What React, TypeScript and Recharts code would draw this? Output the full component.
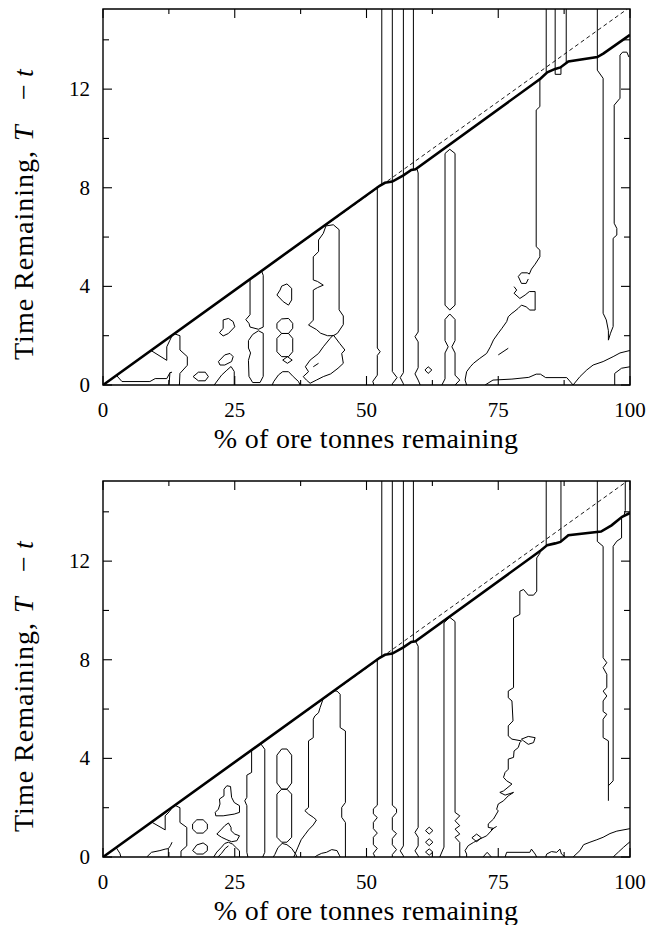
import React from 'react';
import { ComposedChart, Line, XAxis, YAxis, ReferenceArea } from 'recharts';

// ---------- axes ----------
const X_TICKS = [0, 12.5, 25, 37.5, 50, 62.5, 75, 87.5, 100];
const X_LABELED = [0, 25, 50, 75, 100];
const Y_TICKS = [0, 2, 4, 6, 8, 10, 12, 14];
const Y_LABELED = [0, 4, 8, 12];
const Y_MAX = 15.25;
const X_LABEL = '% of ore tonnes remaining';
const Y_LABEL_PARTS = ['Time Remaining,', 'T', '\u2212', 't'];

// ---------- shared ----------
const DASHED = [[0, 0], [99.5, 15.25]];

// ---------- top panel ----------
const T_THICK = [[0, 0], [52.5, 8.08], [53.5, 8.2], [54.9, 8.25], [57, 8.5], [58.5, 8.72], [59.3, 8.75], [83, 12.42], [84.3, 12.68], [85.8, 12.82], [86.8, 12.88], [88.3, 13.12], [93.8, 13.3], [95, 13.45], [100, 14.2]];

const tA = [[2.6, 0.38], [3.6, 0.14], [8.9, 0.14], [9.9, 0.26], [12.1, 0.26], [12.7, 0.5], [13.1, 0.52]];
const tA2 = [[12.7, 0.5], [12.6, 0.2], [12.5, 0]];
const tB = [[9.1, 1.4], [12.1, 1.0], [12.1, 1.55], [12.7, 1.82], [13.1, 2.0]];
const tC = [[13.5, 2.08], [14.6, 2.0], [14.6, 1.42], [16.0, 1.15], [16.0, 0.8], [14.6, 0.47], [14.5, 0]];
const tE1 = [[17.1, 0.34], [18.1, 0.52], [19.4, 0.52], [20.0, 0.34], [19.4, 0.17], [18.1, 0.17], [17.1, 0.34]];
const tD1 = [[21.1, 0], [22.5, 0.4], [23.5, 0.6], [24.3, 0.75], [24.9, 0.55], [24.9, 0]];
const tD2 = [[21.9, 0.95], [23.1, 1.22], [24.1, 1.28], [24.7, 1.15], [24.4, 0.95], [23.1, 0.81], [22.2, 0.81], [21.9, 0.95]];
const tD3 = [[22.8, 2.64], [23.8, 2.7], [24.7, 2.57], [25.0, 2.36], [23.8, 2.09], [22.8, 1.99], [22.1, 2.12], [22.8, 2.3], [22.8, 2.64]];
const tF1 = [[27.9, 4.29], [27.9, 2.85], [27.1, 2.65], [27.7, 2.5], [27.9, 2.35], [29.5, 2.26], [30.4, 2.35], [30.4, 4.45], [30.1, 4.62]];
const tF2 = [[29.5, 2.2], [30.4, 2.1], [30.4, 0.35], [29.8, 0.1], [28.4, 0.1], [27.7, 0.35], [27.6, 1.0], [28.0, 1.3], [27.6, 1.5], [27.6, 1.8], [28.4, 2.05], [29.5, 2.2]];
const tG1 = [[33.9, 4.01], [34.9, 4.1], [35.8, 3.92], [35.8, 3.45], [35.2, 3.24], [34.2, 3.38], [33.0, 3.65], [33.6, 3.85], [33.9, 4.01]];
const tG2 = [[33.9, 2.68], [35.2, 2.7], [36.0, 2.5], [36.0, 2.3], [35.2, 2.09], [33.9, 2.09], [33.0, 2.3], [33.0, 2.5], [33.9, 2.68]];
const tG3 = [[33.9, 2.09], [35.2, 2.09], [36.0, 1.89], [36.0, 1.35], [35.2, 1.15], [33.9, 1.15], [33.0, 1.35], [33.0, 1.89], [33.9, 2.09]];
const tG4 = [[34.1, 1.01], [35.0, 1.15], [35.9, 1.01], [35.0, 0.88], [34.1, 1.01]];
const tG5 = [[32.1, 0], [32.4, 0.14], [33.3, 0.41], [34.1, 0.54], [35.2, 0.54], [36.1, 0.34], [37.1, 0.14], [37.4, 0]];
const tH1 = [[42.3, 6.45], [43.7, 6.5], [44.8, 6.3], [44.8, 3.05], [45.6, 2.8], [45.6, 2.45], [44.5, 2.1], [43.7, 2.0], [42.6, 2.0], [41.3, 2.1], [40.5, 2.25], [39.0, 2.43], [39.9, 2.63], [39.9, 3.85], [40.7, 3.95], [41.8, 4.05], [40.7, 4.2], [39.9, 4.26], [39.9, 5.2], [40.9, 5.41], [40.9, 5.88], [41.8, 6.15], [42.3, 6.45]];
const tH2 = [[43.7, 2.03], [44.9, 1.69], [45.9, 1.42], [45.3, 1.28], [45.6, 0.88], [44.6, 0.68], [43.2, 0.45], [41.8, 0.34], [40.5, 0.2], [39.3, 0.07], [38.6, 0.2], [38.0, 0.34], [39.0, 0.54], [38.4, 0.74], [39.3, 1.01], [40.9, 1.28], [41.8, 1.55], [43.1, 1.89], [43.7, 2.03]];
const tH3 = [[39.9, 0.74], [40.9, 0.88]];
const tV1 = [[52.05, 8.05], [52.05, 1.5], [52.6, 1.35], [52.05, 1.2], [52.05, 0.4], [51.2, 0.15], [51.4, 0]];
const tV2 = [[52.9, 15.25], [52.9, 8.15]];
const tV3 = [[54.9, 15.25], [54.9, 0.55], [55.8, 0.3], [54.9, 0.05], [54.9, 0]];
const tV4 = [[57.0, 15.25], [57.0, 0.5], [56.4, 0.3], [57.0, 0.05], [57.0, 0]];
const tV5 = [[58.9, 15.25], [58.9, 8.72]];
const tV6 = [[59.6, 8.75], [59.8, 8.6], [59.8, 2.15], [59.2, 1.96], [59.8, 1.75], [59.8, 0.7], [59.2, 0.45], [59.8, 0.2], [60.2, 0]];
const tDia = [[61.1, 0.61], [61.7, 0.74], [62.4, 0.61], [61.7, 0.47], [61.1, 0.61]];
const tK1 = [[64.9, 9.39], [65.8, 9.56], [66.8, 9.39], [66.8, 3.24], [65.8, 3.04], [64.9, 3.24], [64.9, 9.39]];
const tK2 = [[64.3, 0], [64.9, 0.25], [64.9, 1.3], [65.5, 1.55], [64.9, 1.8], [64.9, 2.66], [65.8, 2.88], [66.8, 2.66], [66.8, 1.8], [66.2, 1.55], [66.8, 1.3], [66.8, 0.4], [67.7, 0.2], [66.8, 0]];
const tBand1 = [[82.9, 12.45], [82.9, 11.29], [82.2, 11.15], [82.2, 5.61], [82.9, 5.47], [82.9, 5.2], [82.0, 4.9], [81.3, 4.7], [80.9, 4.5], [80.5, 4.55], [79.4, 4.55], [78.8, 4.4], [79.4, 4.12], [80.3, 4.12], [80.7, 4.3]];
const tBand2 = [[78.0, 3.99], [78.5, 3.85], [78.0, 3.72], [79.1, 3.51], [80.1, 3.65], [80.9, 3.79], [82.0, 3.79], [82.0, 3.04], [81.0, 3.04], [80.3, 3.17], [79.4, 3.24], [78.8, 3.11], [78.0, 2.97], [77.6, 2.91], [76.9, 2.77], [76.6, 2.57], [75.7, 2.3], [75.0, 2.1], [74.1, 1.83], [73.5, 1.55], [72.8, 1.28], [71.5, 1.08], [70.3, 0.88], [69.7, 0.74], [69.0, 0.54], [68.7, 0.2], [69.0, 0]];
const tSeg = [[75.0, 1.22], [76.9, 1.49]];
const tStair = [[72.5, 0], [74.0, 0.2], [77.6, 0.24], [80.8, 0.31], [82.2, 0.44], [83.0, 0.44], [84.0, 0.3], [88.0, 0.3], [89.2, 0]];
const tRise = [[89.2, 0], [90.5, 0.34], [91.8, 0.61], [93.0, 0.81], [94.9, 0.95], [96.8, 1.15], [98.1, 1.3], [100, 1.4]];
const tCorner = [[97.1, 0], [97.1, 0.47], [98.4, 0.68], [100, 0.74]];
const tR1 = [[84.1, 15.25], [84.1, 12.7]];
const tR2 = [[85.8, 15.25], [85.8, 12.6], [86.9, 12.6], [86.9, 12.88]];
const tR3 = [[87.9, 15.25], [87.9, 13.05]];
const tR4 = [[93.8, 15.25], [93.8, 13.3]];
const tR5 = [[93.8, 13.3], [93.8, 12.77], [94.9, 12.44], [94.9, 2.91], [95.5, 2.64], [95.9, 2.2], [95.9, 1.82], [96.3, 2.1], [96.8, 2.37], [96.8, 5.95], [97.5, 6.08], [97.5, 6.35], [97.0, 6.56], [97.0, 11.35], [98.1, 11.63], [98.1, 13.38], [98.6, 13.5], [99.4, 13.5], [99.8, 13.3]];

const TOP_CONTOURS = [tA, tA2, tB, tC, tE1, tD1, tD2, tD3, tF1, tF2, tG1, tG2, tG3, tG4, tG5, tH1, tH2, tH3, tV1, tV2, tV3, tV4, tV5, tV6, tDia, tK1, tK2, tBand1, tBand2, tSeg, tStair, tRise, tCorner, tR1, tR2, tR3, tR4, tR5];

// ---------- bottom panel ----------
const B_THICK = [[0, 0], [52.5, 8.08], [53.5, 8.2], [54.9, 8.25], [57, 8.5], [58.5, 8.72], [59.3, 8.75], [83, 12.42], [84.3, 12.65], [85.8, 12.72], [86.8, 12.78], [88.3, 13.05], [94.5, 13.2], [96.5, 13.45], [98.5, 13.8], [100, 13.95]];

const bA = [[2.5, 0.38], [3.2, 0.15], [3.4, 0]];
const bStair1 = [[8.3, 0], [9.2, 0.19], [10.8, 0.26], [11.8, 0.32], [12.4, 0.34], [12.8, 0.46], [13.1, 0.6]];
const bStair2 = [[12.4, 0.34], [12.4, 0]];
const bB = [[9.2, 1.42], [11.8, 1.1], [11.8, 1.67], [12.6, 1.84], [13.1, 2.0]];
const bC = [[13.6, 2.1], [14.6, 2.0], [14.6, 1.4], [15.9, 1.2], [15.9, 0.45], [14.8, 0.24], [14.8, 0]];
const bE1 = [[17.0, 1.34], [17.8, 1.51], [19.0, 1.51], [19.8, 1.34], [19.8, 1.13], [19.0, 0.97], [17.8, 0.97], [17.0, 1.13], [17.0, 1.34]];
const bE2 = [[17.0, 0.26], [17.8, 0.49], [19.0, 0.57], [19.8, 0.45], [19.8, 0.26], [19.0, 0.12], [17.8, 0.12], [17.0, 0.26]];
const bD1 = [[23.5, 2.89], [24.2, 2.86], [24.4, 2.42], [24.9, 2.21], [25.9, 2.08], [25.9, 1.81], [24.9, 1.74], [22.8, 1.67], [21.4, 1.67], [21.3, 1.81], [21.9, 1.94], [22.2, 2.15], [22.1, 2.35], [22.96, 2.48], [22.96, 2.75], [23.5, 2.89]];
const bD2 = [[21.6, 0.93], [22.5, 1.13], [23.1, 1.27], [23.8, 1.38], [24.3, 1.2], [24.3, 1.07], [25.0, 0.93], [25.9, 0.86], [25.4, 0.66], [24.4, 0.62], [23.5, 0.7], [22.5, 0.8], [21.6, 0.93]];
const bD3 = [[21.0, 0], [21.6, 0.2], [22.5, 0.4], [23.1, 0.55], [23.8, 0.6], [24.6, 0.52], [25.4, 0.35], [25.9, 0.25], [25.9, 0]];
const bD4 = [[21.8, 0], [22.5, 0.15], [23.2, 0.35], [23.8, 0.45]];
const bF1 = [[28.2, 4.34], [28.2, 3.43], [27.3, 3.32], [27.3, 2.42], [26.9, 2.28], [27.3, 2.08], [27.3, 0.19], [27.5, 0]];
const bF2 = [[29.9, 4.6], [30.7, 4.37], [30.7, 0.19], [30.3, 0]];
const bG1 = [[33.9, 4.38], [34.9, 4.38], [35.8, 4.13], [35.8, 3.0], [34.9, 2.75], [33.9, 2.75], [33.0, 3.0], [33.0, 4.13], [33.9, 4.38]];
const bG2 = [[33.9, 2.75], [34.9, 2.75], [35.8, 2.55], [35.8, 0.8], [34.9, 0.6], [33.9, 0.6], [33.0, 0.8], [33.0, 2.55], [33.9, 2.75]];
const bG3 = [[32.3, 0], [32.6, 0.1], [33.2, 0.38], [34.0, 0.55], [34.9, 0.5], [35.8, 0.35], [36.6, 0.1], [36.8, 0]];
const bH1 = [[41.8, 6.43], [41.2, 6.06], [40.9, 5.85], [40.2, 5.72], [39.9, 5.59], [39.9, 4.84], [39.0, 4.71], [39.0, 2.01], [38.3, 1.88], [39.0, 1.74], [39.9, 1.61], [40.5, 1.5], [39.9, 1.3], [39.0, 1.1], [38.3, 0.9], [37.6, 0.7], [37.0, 0.4], [36.4, 0.1], [36.2, 0]];
const bH2 = [[43.8, 6.74], [44.4, 6.73], [45.0, 6.6], [45.0, 5.25], [46.0, 5.11], [46.0, 2.21], [45.3, 2.01], [45.3, 1.61], [46.0, 1.4], [46.0, 0]];
const bH3 = [[40.2, 0], [40.5, 0.05], [41.5, 0.15], [42.4, 0.19], [43.4, 0.3], [44.4, 0.26], [44.9, 0.05], [45.0, 0]];
const bV1 = [[52.05, 8.05], [52.05, 2.1], [51.3, 1.95], [51.3, 1.75], [52.05, 1.6], [51.3, 1.4], [51.3, 1.15], [52.05, 0.97], [51.3, 0.8], [51.3, 0.5], [52.05, 0.35], [51.3, 0.15], [51.6, 0]];
const bV2 = [[52.9, 15.25], [52.9, 8.15]];
const bV3 = [[54.9, 15.25], [54.9, 2.1], [55.7, 1.95], [55.7, 1.8], [54.9, 1.6], [54.9, 1.1], [55.7, 0.95], [54.9, 0.75], [54.9, 0.5], [55.7, 0.3], [54.9, 0.1], [54.9, 0]];
const bV4 = [[57.0, 15.25], [57.0, 0.45], [56.4, 0.25], [57.0, 0.05], [57.0, 0]];
const bV5 = [[58.9, 15.25], [58.9, 8.72]];
const bV6 = [[59.3, 8.75], [59.8, 8.55], [59.8, 1.2], [59.2, 1.0], [59.8, 0.8], [59.8, 0.45], [59.2, 0.25], [59.8, 0.05], [59.9, 0]];
const bDi1 = [[61.2, 1.07], [61.9, 1.21], [62.6, 1.07], [61.9, 0.93], [61.2, 1.07]];
const bDi2 = [[61.2, 0.6], [61.9, 0.74], [62.6, 0.6], [61.9, 0.46], [61.2, 0.6]];
const bDi3 = [[61.2, 0.2], [61.9, 0.33], [62.6, 0.2], [61.9, 0.07], [61.2, 0.2]];
const bK = [[63.9, 0], [64.7, 0.4], [64.7, 9.5], [65.8, 9.72], [66.8, 9.55], [66.8, 1.81], [67.7, 1.67], [66.8, 1.47], [67.7, 1.27], [66.8, 1.13], [67.7, 0.93], [66.8, 0.8], [67.7, 0.59], [67.7, 0]];
const bBand = [[83.0, 12.35], [82.3, 12.13], [82.3, 10.78], [81.7, 10.62], [80.7, 10.62], [79.8, 10.85], [79.1, 10.78], [79.1, 9.84], [77.9, 9.7], [77.9, 6.87], [76.9, 6.73], [76.9, 6.46], [77.6, 6.33], [77.8, 5.52], [76.9, 5.32], [76.9, 4.91], [77.6, 4.78], [79.4, 4.71], [79.1, 4.64], [78.8, 4.44], [78.0, 4.3], [77.9, 4.04], [76.9, 3.97], [76.9, 3.56], [76.3, 3.43], [76.0, 3.23], [76.6, 3.09], [77.6, 2.96], [76.0, 2.68], [75.3, 2.62], [76.3, 2.51], [77.9, 2.62], [76.9, 2.48], [76.0, 2.28], [75.0, 2.15], [74.7, 1.94], [75.0, 1.87], [74.1, 1.54], [73.1, 1.34], [73.1, 1.2], [74.1, 1.16], [72.8, 0.86], [71.5, 0.73], [70.3, 0.59], [69.3, 0.46], [68.7, 0.26], [69.0, 0.12], [69.0, 0]];
const bLoop = [[79.4, 4.78], [80.7, 4.89], [82.0, 4.84], [81.7, 4.64], [80.7, 4.57], [79.8, 4.71], [79.4, 4.78]];
const bStub = [[73.6, 1.1], [74.7, 1.24]];
const bDi4 = [[70.0, 0.78], [70.9, 0.93], [71.8, 0.78], [70.9, 0.62], [70.0, 0.78]];
const bStairA = [[72.1, 0], [72.9, 0.19], [73.7, 0]];
const bStairB = [[76.3, 0], [76.6, 0.19], [81.0, 0.19], [81.3, 0.32], [82.0, 0.12], [82.3, 0]];
const bStairC = [[84.0, 0], [84.2, 0.12], [85.1, 0.22], [86.1, 0.19], [86.7, 0.32], [87.0, 0.12], [87.7, 0]];
const bRise = [[89.2, 0], [90.5, 0.26], [91.2, 0.5], [92.4, 0.6], [93.7, 0.7], [94.9, 0.8], [96.2, 0.95], [97.5, 1.05], [100, 1.15]];
const bCorner = [[96.8, 0], [97.8, 0.2], [98.8, 0.4], [100, 0.62]];
const bR1 = [[84.1, 15.25], [84.1, 12.65]];
const bR2 = [[86.9, 15.25], [86.9, 12.8]];
const bR3 = [[93.8, 15.25], [93.8, 13.2]];
const bR4 = [[93.8, 13.2], [93.8, 12.8], [94.9, 12.6], [94.9, 8.08], [95.6, 7.88], [94.9, 7.68], [95.6, 7.41], [95.6, 6.87], [94.9, 6.73], [95.6, 6.53], [94.9, 6.33], [94.9, 5.9], [95.6, 5.79], [94.9, 5.59], [94.9, 4.84], [95.9, 4.71], [95.9, 2.28]];
const bR5 = [[99.1, 15.25], [99.1, 14.05], [98.9, 13.88]];
const bR6 = [[98.4, 13.75], [98.4, 12.94], [97.5, 12.81], [96.8, 12.6], [96.8, 3.09], [95.9, 2.89]];

const BOTTOM_CONTOURS = [bA, bStair1, bStair2, bB, bC, bE1, bE2, bD1, bD2, bD3, bD4, bF1, bF2, bG1, bG2, bG3, bH1, bH2, bH3, bV1, bV2, bV3, bV4, bV5, bV6, bDi1, bDi2, bDi3, bK, bBand, bLoop, bStub, bDi4, bStairA, bStairB, bStairC, bRise, bCorner, bR1, bR2, bR3, bR4, bR5, bR6];

// ---------- rendering ----------
const FONT = '"Liberation Serif", "Times New Roman", serif';
const TICK_FS = 21;
const LABEL_FS = 28;
const PLOT_W = 527;
const PLOT_H = 376;

const toPts = (a: number[][]) => a.map(([x, y]) => ({ x, y }));

const XTick = (props: any) => {
  const { x, y, payload } = props;
  const major = X_LABELED.includes(payload.value);
  const len = major ? 9 : 5;
  return (
    <g>
      <line x1={x} x2={x} y1={y} y2={y - len} stroke="#000" strokeWidth={1.1} />
      <line x1={x} x2={x} y1={y - PLOT_H} y2={y - PLOT_H + len} stroke="#000" strokeWidth={1.1} />
      {major && (
        <text x={x} y={y + 32} textAnchor="middle" fontFamily={FONT} fontSize={TICK_FS} fill="#000">
          {payload.value}
        </text>
      )}
    </g>
  );
};

const YTick = (props: any) => {
  const { x, y, payload } = props;
  const major = Y_LABELED.includes(payload.value);
  const len = major ? 9 : 6;
  return (
    <g>
      <line x1={x} x2={x + len} y1={y} y2={y} stroke="#000" strokeWidth={1.1} />
      <line x1={x + PLOT_W} x2={x + PLOT_W - len} y1={y} y2={y} stroke="#000" strokeWidth={1.1} />
      {major && (
        <text x={x - 13} y={y + 7} textAnchor="end" fontFamily={FONT} fontSize={TICK_FS} fill="#000">
          {payload.value}
        </text>
      )}
    </g>
  );
};

// rotated y-axis title, pieces placed along the baseline (offsets in px from the start)
const YTitle = ({ startY }: { startY: number }) => {
  const bx = 33;
  const offs = [0, 219, 260, 283];
  return (
    <g>
      {Y_LABEL_PARTS.map((s, i) => {
        const py = startY - offs[i];
        return (
          <text
            key={i}
            x={bx}
            y={py}
            transform={`rotate(-90, ${bx}, ${py})`}
            fontFamily={FONT}
            fontSize={LABEL_FS}
            fontStyle={i === 1 || i === 3 ? 'italic' : 'normal'}
            letterSpacing={i === 0 ? 1 : 0}
            fill="#000"
          >
            {s}
          </text>
        );
      })}
    </g>
  );
};

function Panel({ contours, thick, top, height, marginTop }: { contours: number[][][]; thick: number[][]; top: number; height: number; marginTop: number }) {
  const plotBottom = marginTop + PLOT_H;
  return (
    <div style={{ position: 'absolute', left: 0, top }}>
      <ComposedChart width={663} height={height} margin={{ top: marginTop, right: 33, bottom: 0, left: 0 }}>
        <XAxis
          dataKey="x"
          type="number"
          domain={[0, 100]}
          ticks={X_TICKS}
          interval={0}
          allowDataOverflow
          tickSize={0}
          tickMargin={0}
          axisLine={false}
          tickLine={false}
          tick={XTick}
          height={height - plotBottom}
          label={() => (
            <text x={366} y={plotBottom + 63} textAnchor="middle" fontFamily={FONT} fontSize={LABEL_FS} letterSpacing={0.3} fill="#000">
              {X_LABEL}
            </text>
          )}
        />
        <YAxis
          type="number"
          domain={[0, Y_MAX]}
          ticks={Y_TICKS}
          interval={0}
          allowDataOverflow
          tickSize={0}
          tickMargin={0}
          axisLine={false}
          tickLine={false}
          tick={YTick}
          width={103}
          label={() => <YTitle startY={marginTop + 351} />}
        />
        {contours.map((c, i) => (
          <Line
            key={i}
            data={toPts(c)}
            dataKey="y"
            type="linear"
            dot={false}
            activeDot={false}
            stroke="#000"
            strokeWidth={1}
            isAnimationActive={false}
          />
        ))}
        <Line data={toPts(DASHED)} dataKey="y" type="linear" dot={false} activeDot={false} stroke="#000" strokeWidth={0.9} strokeDasharray="4 3" isAnimationActive={false} />
        <Line data={toPts(thick)} dataKey="y" type="linear" dot={false} activeDot={false} stroke="#000" strokeWidth={2.6} isAnimationActive={false} />
        <ReferenceArea x1={0} x2={100} y1={0} y2={Y_MAX} fill="none" fillOpacity={0} stroke="#000" strokeWidth={1.4} ifOverflow="visible" />
      </ComposedChart>
    </div>
  );
}

export default function App() {
  return (
    <div style={{ position: 'absolute', left: 0, top: 0, width: 663, height: 925, background: '#fff', overflow: 'hidden' }}>
      <Panel contours={TOP_CONTOURS} thick={T_THICK} top={0} height={460} marginTop={9} />
      <Panel contours={BOTTOM_CONTOURS} thick={B_THICK} top={460} height={478} marginTop={21} />
    </div>
  );
}
